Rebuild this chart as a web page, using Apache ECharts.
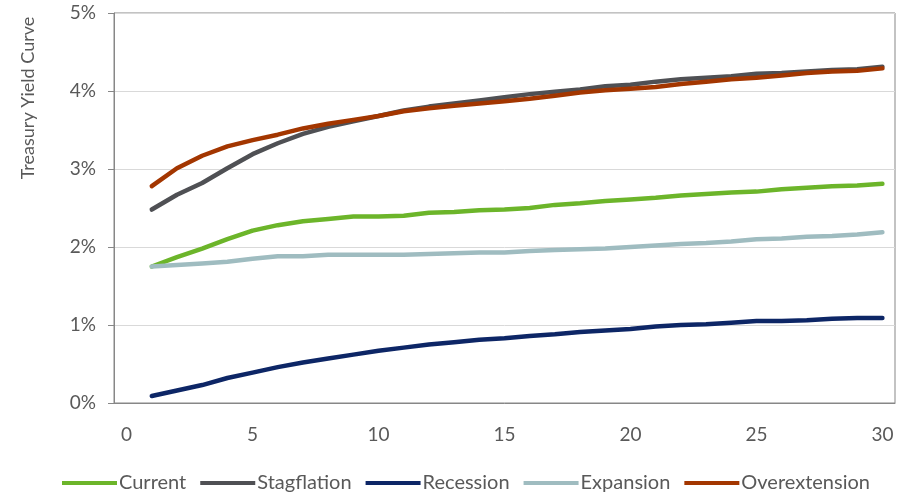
<!DOCTYPE html>
<html>
<head>
<meta charset="utf-8">
<script src="https://cdn.jsdelivr.net/npm/echarts@6/dist/echarts.min.js"></script>
<style>html,body{margin:0;padding:0;background:#fff}#chart{width:908px;height:493px}</style>
</head>
<body>
<div id="chart"></div>
<script>
const years = [1,2,3,4,5,6,7,8,9,10,11,12,13,14,15,16,17,18,19,20,21,22,23,24,25,26,27,28,29,30];
const current = [1.75,1.87,1.98,2.10,2.21,2.28,2.33,2.36,2.39,2.39,2.40,2.44,2.45,2.47,2.48,2.50,2.54,2.56,2.59,2.61,2.63,2.66,2.68,2.70,2.71,2.74,2.76,2.78,2.79,2.81];
const stagflation = [2.48,2.67,2.82,3.01,3.19,3.33,3.45,3.54,3.61,3.68,3.75,3.80,3.84,3.88,3.92,3.96,3.99,4.02,4.06,4.08,4.12,4.15,4.17,4.19,4.22,4.23,4.25,4.27,4.28,4.31];
const recession = [0.09,0.16,0.23,0.32,0.39,0.46,0.52,0.57,0.62,0.67,0.71,0.75,0.78,0.81,0.83,0.86,0.88,0.91,0.93,0.95,0.98,1.00,1.01,1.03,1.05,1.05,1.06,1.08,1.09,1.09];
const expansion = [1.75,1.77,1.79,1.81,1.85,1.88,1.88,1.90,1.90,1.90,1.90,1.91,1.92,1.93,1.93,1.95,1.96,1.97,1.98,2.00,2.02,2.04,2.05,2.07,2.10,2.11,2.13,2.14,2.16,2.19];
const overextension = [2.78,3.01,3.17,3.29,3.37,3.44,3.52,3.58,3.63,3.68,3.74,3.78,3.81,3.84,3.87,3.90,3.94,3.98,4.01,4.03,4.05,4.09,4.12,4.15,4.17,4.20,4.23,4.25,4.26,4.29];
const xTicks = [0,5,10,15,20,25,30];
const seriesNames = ['Current','Stagflation','Recession','Expansion','Overextension'];
const seriesColors = ['#6cb52a','#4f5054','#0d2666','#9fbcc0','#a33600'];
const seriesData = [current, stagflation, recession, expansion, overextension];
const yTitle = 'Treasury Yield Curve';

const chart = echarts.init(document.getElementById('chart'));
const font = 'Lato, "Open Sans", sans-serif';
chart.setOption({
  animation: false,
  textStyle: {fontFamily: font},
  grid: {left: 114, right: 13, top: 13, bottom: 90, show: true, borderColor: '#878787', borderWidth: 1},
  graphic: [{
    type: 'text', x: 28, y: 98, rotation: Math.PI / 2,
    style: {text: yTitle, fill: '#595959', fontSize: 18, fontFamily: font, align: 'center', verticalAlign: 'middle'}
  }],
  legend: {
    top: 473, left: 62, itemGap: 14, itemWidth: 55, itemHeight: 4, icon: 'rect', padding: 0,
    textStyle: {color: '#595959', fontSize: 20, fontFamily: font, padding: [0, 0, 0, -3]},
    data: seriesNames
  },
  xAxis: {
    type: 'value', min: -0.5, max: 30.5,
    axisLine: {show: true, onZero: false, lineStyle: {color: '#878787'}},
    axisTick: {show: false},
    splitLine: {show: false},
    axisLabel: {customValues: xTicks, color: '#595959', fontSize: 19, margin: 22, fontFamily: font}
  },
  yAxis: {
    type: 'value', min: 0, max: 5, interval: 1,
    axisLine: {show: true, onZero: false, lineStyle: {color: '#878787'}},
    axisTick: {show: true, length: 6, lineStyle: {color: '#878787'}},
    splitLine: {show: true, lineStyle: {color: '#d9d9d9'}},
    axisLabel: {formatter: '{value}%', color: '#595959', fontSize: 19, margin: 18, fontFamily: font}
  },
  series: seriesNames.map((n, i) => ({
    name: n, type: 'line', showSymbol: false, symbol: 'none',
    data: years.map((y, j) => [y, seriesData[i][j]]),
    lineStyle: {color: seriesColors[i], width: 4.5, cap: 'round', join: 'round'},
    itemStyle: {color: seriesColors[i]}
  }))
});
</script>
</body>
</html>
